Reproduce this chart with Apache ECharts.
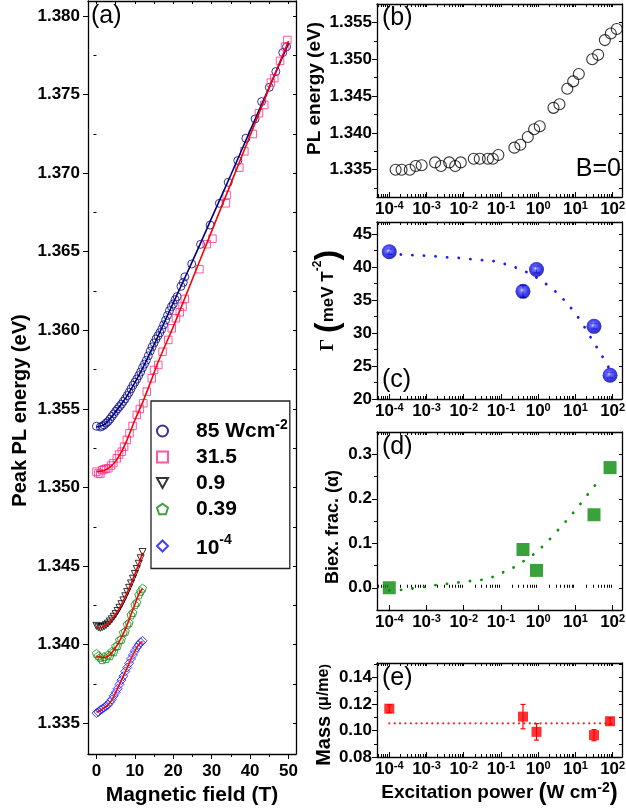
<!DOCTYPE html>
<html><head><meta charset="utf-8">
<script src="https://cdn.jsdelivr.net/npm/echarts@6/dist/echarts.min.js"></script>
<style>html,body{margin:0;padding:0;background:#fff}#c{width:626px;height:812px}</style>
</head><body><div id="c"></div>
<script>
// ---------------- DATA ----------------
// Panel (a): peak PL energy vs magnetic field
const B85 = [0,1.0,1.5,2.0,2.5,3.0,3.5,4.0,4.5,5.0,5.5,6.0,6.5,7.0,7.5,8.0,8.5,9.0,9.5,10,10.5,11,11.5,12,12.5,13,13.5,14,14.5,15,15.5,16,16.5,17,17.5,18,18.5,19,19.5,20,20.5,21,22.0,22.6,23.0,24.8,27.1,29.6,32.0,34.3,36.8,38.9,41.3,43.0,45.0,46.7,48.5,49.5];
const E85 = [1.35390,1.35385,1.35390,1.35398,1.35410,1.35420,1.35435,1.35452,1.35468,1.35485,1.35500,1.35515,1.35530,1.35548,1.35565,1.35585,1.35605,1.35628,1.35650,1.35670,1.35690,1.35712,1.35735,1.35762,1.35785,1.35810,1.35838,1.35868,1.35895,1.35920,1.35945,1.35965,1.35985,1.36008,1.36035,1.36065,1.36095,1.36125,1.36150,1.36168,1.36195,1.36215,1.36280,1.36305,1.36340,1.36422,1.36547,1.36670,1.36808,1.36942,1.37080,1.37222,1.37345,1.37455,1.37546,1.37646,1.37767,1.37805];
const B31 = [0,0.5,1.0,1.5,2.0,2.5,3.1,3.8,4.4,5.3,5.9,6.6,7.2,7.9,8.6,9.4,10.5,11.3,12.2,13.1,14.4,15.0,16.1,17.2,18.7,19.6,20.7,21.7,22.4,23.0,26.8,28.7,30.2,33.7,33.9,37.2,38.5,40.7,42.3,43.7,45.4,46.3,47.8,49.1,49.7];
const E31 = [1.35101,1.35090,1.35087,1.35110,1.35116,1.35120,1.35123,1.35140,1.35155,1.35186,1.35210,1.35228,1.35260,1.35303,1.35345,1.35392,1.35462,1.35500,1.35536,1.35610,1.35695,1.35748,1.35780,1.35864,1.35939,1.36013,1.36077,1.36115,1.36151,1.36200,1.36389,1.36548,1.36583,1.36808,1.36861,1.37035,1.37139,1.37249,1.37381,1.37434,1.37576,1.37604,1.37714,1.37805,1.37847];
const lowB = [0,0.5,1,1.5,2,2.5,3,3.5,4,4.5,5,5.5,6,6.5,7,7.5,8,8.5,9,9.5,10,10.5,11,11.5,12];
const E09 = [1.34120,1.34112,1.34108,1.34112,1.34118,1.34125,1.34135,1.34148,1.34162,1.34178,1.34195,1.34215,1.34235,1.34258,1.34282,1.34308,1.34335,1.34362,1.34390,1.34420,1.34450,1.34482,1.34515,1.34550,1.34590];
const E039 = [1.33945,1.33930,1.33920,1.33905,1.33925,1.33912,1.33935,1.33930,1.33958,1.33955,1.33990,1.33995,1.34030,1.34035,1.34078,1.34085,1.34130,1.34140,1.34190,1.34205,1.34255,1.34270,1.34318,1.34340,1.34360];
const E1e4 = [1.33565,1.33572,1.33585,1.33592,1.33600,1.33610,1.33618,1.33635,1.33652,1.33675,1.33697,1.33720,1.33748,1.33775,1.33800,1.33830,1.33855,1.33882,1.33910,1.33935,1.33960,1.33982,1.34000,1.34015,1.34025];
// fits in (a)
const fitB = [0,2,4,6,8,10,12,14,16,18,20,25,30,35,40,45,50];
const fitE85 = [1.35385,1.35400,1.35450,1.35515,1.35585,1.35668,1.35758,1.35858,1.35962,1.36068,1.36175,1.36440,1.36715,1.36990,1.37270,1.37548,1.37825];
const fitE31 = [1.35100,1.35108,1.35140,1.35205,1.35305,1.35430,1.35540,1.35665,1.35795,1.35910,1.36023,1.36327,1.36631,1.36935,1.37239,1.37543,1.37840];
const fitLowB = [0,1,2,3,4,5,6,7,8,9,10,11,12];
const fitE09 = [1.34112,1.34108,1.34116,1.34133,1.34160,1.34193,1.34233,1.34280,1.34333,1.34388,1.34448,1.34513,1.34585];
const fitE039 = [1.33928,1.33920,1.33918,1.33928,1.33950,1.33983,1.34023,1.34070,1.34128,1.34192,1.34256,1.34320,1.34358];
const fitE1e4 = [1.33570,1.33582,1.33598,1.33618,1.33648,1.33695,1.33748,1.33800,1.33855,1.33910,1.33960,1.34000,1.34022];

// Panel (b): PL energy at B=0 vs excitation power
const powerB = [1.48e-4,2.14e-4,3.55e-4,5.13e-4,7.41e-4,1.70e-3,2.45e-3,4.07e-3,5.89e-3,8.32e-3,0.0186,0.0269,0.0447,0.0603,0.0851,0.229,0.331,0.525,0.776,1.10,2.57,3.72,6.03,8.71,12.3,28.2,40.7,61.7,89.1,129];
const energyB = [1.3350,1.3350,1.3350,1.3355,1.3356,1.3360,1.3355,1.3360,1.3355,1.3360,1.3365,1.3365,1.3365,1.3365,1.3370,1.3380,1.3384,1.33945,1.3405,1.3409,1.3434,1.3439,1.3460,1.3470,1.3480,1.3500,1.3506,1.3526,1.3535,1.3541];

// Panels (c)-(e): fitted parameters vs excitation power
const powers = [1e-4, 0.39, 0.9, 31.5, 85];
const gamma = [42.3, 36.3, 39.6, 31.0, 23.6];
const gammaErr = [0.4, 0.9, 0.5, 0.4, 0.4];
const fitPowC = [1e-4,3.4e-4,7.2e-4,1.55e-3,3.3e-3,7.1e-3,0.0155,0.0355,0.078,0.17,0.35,0.72,1.55,3.3,6.6,11.7,18.6,30,47.5,72,85];
const fitGamma = [41.95,41.82,41.72,41.62,41.47,41.36,41.16,41.0,40.8,40.2,39.6,38.7,37.5,36.0,34.2,32.4,30.65,28.7,26.9,25.1,24.5];
const alpha = [0.0, 0.086, 0.039, 0.164, 0.270];
const fitPowD = [1e-4,2.34e-4,4.8e-4,1.02e-3,2.19e-3,4.7e-3,9.7e-3,0.0205,0.044,0.093,0.196,0.41,0.89,1.83,3.6,7.0,12.9,22.9,42.6];
const fitAlpha = [-0.006,-0.0045,-0.001,0.003,0.007,0.0097,0.0135,0.0164,0.020,0.0315,0.0435,0.060,0.080,0.105,0.132,0.159,0.186,0.213,0.241];
const mass = [0.1165, 0.1105, 0.0990, 0.0965, 0.1070];
const massErr = [0.003, 0.0092, 0.0062, 0.0042, 0.0025];
const meanMassPow = [1e-4, 100];
const meanMass = [0.1054, 0.1054];

// tick labels
const fieldTicks = [0,10,20,30,40,50];
const fieldMinor = [5,15,25,35,45];
const energyTicksA = [1.335,1.340,1.345,1.350,1.355,1.360,1.365,1.370,1.375,1.380];
const energyMinorA = [1.3375,1.3425,1.3475,1.3525,1.3575,1.3625,1.3675,1.3725,1.3775];
const energyTicksB = [1.335,1.340,1.345,1.350,1.355];
const energyMinorB = [1.3325,1.3375,1.3425,1.3475,1.3525];
const gammaTicks = [20,25,30,35,40,45];
const gammaMinor = [22.5,27.5,32.5,37.5,42.5];
const alphaTicks = [0.0,0.1,0.2,0.3];
const alphaMinor = [0.05,0.15,0.25];
const massTicks = [0.08,0.10,0.12,0.14];
const massMinor = [0.09,0.11,0.13,0.15];
const powerTicks = [1e-4,1e-3,1e-2,1e-1,1,10,100];

// ---------------- CHART ----------------
const FONT = '"Liberation Sans", Arial, Helvetica, sans-serif';
const powerMinor = [];
for (let n = -5; n <= 2; n++) for (let k = 2; k <= 9; k++) { const v = k * Math.pow(10, n); if (v > 4.7e-5 && v < 178) powerMinor.push(+v.toPrecision(3)); }

const LOGRICH = {
  b: {fontFamily: FONT, fontWeight: 'bold', fontSize: 17, lineHeight: 18, color: '#000'},
  s: {fontFamily: FONT, fontWeight: 'bold', fontSize: 11, lineHeight: 11, verticalAlign: 'top', color: '#000'}
};
const logFmt = v => '{b|10}{s|' + Math.round(Math.log10(v)) + '}';

const panels = [
  {rect:{left:88, top:1, width:208, height:753},
   x:{type:'value', min:-2.2, max:51.95, major:fieldTicks, minor:fieldMinor, fmt:v=>String(v), labels:true, tickIn:false, margin:9,
      name:'Magnetic field (T)', nameGap:30, nameStyle:{fontSize:21}},
   y:{min:1.33305, max:1.38095, major:energyTicksA, minor:energyMinorA, fmt:v=>v.toFixed(3), margin:8,
      name:'Peak PL energy (eV)', nameGap:58, nameStyle:{fontSize:20, padding:[0,66,0,0]}}},
  {rect:{left:377, top:4, width:245, height:193},
   x:{type:'log', min:4.68e-5, max:178, major:powerTicks, minor:powerMinor, fmt:logFmt, labels:true, tickIn:true, margin:3},
   y:{min:1.3313, max:1.3575, major:energyTicksB, minor:energyMinorB, fmt:v=>v.toFixed(3), margin:5,
      name:'PL energy (eV)', nameGap:53, nameStyle:{fontSize:19, padding:[0,0,0,24]}}},
  {rect:{left:377, top:222, width:245, height:177},
   x:{type:'log', min:4.68e-5, max:178, major:powerTicks, minor:powerMinor, fmt:logFmt, labels:true, tickIn:true, margin:3},
   y:{min:20, max:46.8, major:gammaTicks, minor:gammaMinor, fmt:v=>String(v), margin:5,
      name:'{g|Γ}{p|(}{t|meV T}{s|-2}{p|)}', nameGap:33, nameStyle:{padding:[0,0,0,20], rich:{
        g:{fontFamily:'"Liberation Serif", serif', fontSize:19, color:'#000', padding:[0,6,0,0]},
        p:{fontFamily:FONT, fontSize:32, color:'#000'},
        t:{fontFamily:FONT, fontWeight:'bold', fontSize:17, color:'#000'},
        s:{fontFamily:FONT, fontWeight:'bold', fontSize:12, verticalAlign:'top', lineHeight:12, color:'#000'}}}}},
  {rect:{left:377, top:432, width:245, height:178},
   x:{type:'log', min:4.68e-5, max:178, major:powerTicks, minor:powerMinor, fmt:logFmt, labels:true, tickIn:true, margin:3},
   y:{min:-0.05, max:0.35, major:alphaTicks, minor:alphaMinor, fmt:v=>v.toFixed(1), margin:5,
      name:'{t|Biex. frac. }{p|(α)}', nameGap:35, nameStyle:{padding:[0,12,0,0], rich:{
        t:{fontFamily:FONT, fontWeight:'bold', fontSize:18, color:'#000'},
        p:{fontFamily:FONT, fontSize:18, color:'#000'}}}}},
  {rect:{left:377, top:663, width:245, height:94},
   x:{type:'log', min:4.68e-5, max:178, major:powerTicks, minor:powerMinor, fmt:logFmt, labels:true, tickIn:true, margin:3,
      name:'{t|Excitation power }{p|(}{t|W cm}{s|-2}{p|)}', nameGap:24, nameStyle:{rich:{
        t:{fontFamily:FONT, fontWeight:'bold', fontSize:19, color:'#000'},
        p:{fontFamily:FONT, fontSize:24, color:'#000'},
        s:{fontFamily:FONT, fontWeight:'bold', fontSize:14, verticalAlign:'top', lineHeight:15, color:'#000'}}}},
   y:{min:0.08, max:0.151, major:massTicks, minor:massMinor, fmt:v=>v.toFixed(2), margin:5,
      name:'{t|Mass }{p|(}{u|μ/m}{e|e}{p|)}', nameGap:43, nameStyle:{padding:[0,10,0,0], rich:{
        t:{fontFamily:FONT, fontWeight:'bold', fontSize:20, color:'#000'},
        p:{fontFamily:FONT, fontSize:13, color:'#000'},
        u:{fontFamily:FONT, fontWeight:'bold', fontSize:16, color:'#000'},
        e:{fontFamily:FONT, fontWeight:'bold', fontSize:16, color:'#000'}}}}}
];

const grid = [], xAxis = [], yAxis = [];
const LINE = {show:true, onZero:false, lineStyle:{color:'#000', width:1.3}};
const baseName = {fontFamily:FONT, fontWeight:'bold', color:'#000'};
panels.forEach(p => grid.push(Object.assign({outerBoundsMode:'none'}, p.rect)));
panels.forEach(p => grid.push(Object.assign({outerBoundsMode:'none'}, p.rect)));

panels.forEach((p, i) => {
  const X = p.x, Y = p.y;
  const xCommon = {type:X.type, logBase:10, min:X.min, max:X.max, splitLine:{show:false}};
  const yCommon = {type:'value', min:Y.min, max:Y.max, splitLine:{show:false}, scale:true};
  xAxis[2*i] = Object.assign({}, xCommon, {gridIndex:i, position:'bottom', axisLine:LINE,
    axisTick:{show:true, inside:X.tickIn, length:5, customValues:X.major, lineStyle:{color:'#000', width:1}},
    axisLabel:{show:X.labels, customValues:X.major, formatter:X.fmt, margin:X.margin, color:'#000',
      fontFamily:FONT, fontWeight:'bold', fontSize:17, rich:LOGRICH, hideOverlap:false},
    name:X.name || '', nameLocation:'middle', nameGap:X.nameGap || 20,
    nameTextStyle:Object.assign({}, baseName, X.nameStyle || {})});
  xAxis[2*i+1] = Object.assign({}, xCommon, {gridIndex:i, position:'top', axisLine:LINE,
    axisTick:{show:true, inside:true, length:3, customValues:X.major.concat(X.minor), lineStyle:{color:'#000', width:1}},
    axisLabel:{show:false}});
  xAxis[10+i] = Object.assign({}, xCommon, {gridIndex:5+i, position:'bottom', axisLine:{show:false},
    axisTick:{show:true, inside:X.tickIn, length:3, customValues:X.minor, lineStyle:{color:'#000', width:1}},
    axisLabel:{show:false}});
  yAxis[2*i] = Object.assign({}, yCommon, {gridIndex:i, position:'left', axisLine:LINE,
    axisTick:{show:true, inside:false, length:5, customValues:Y.major, lineStyle:{color:'#000', width:1}},
    axisLabel:{show:true, customValues:Y.major, formatter:Y.fmt, margin:Y.margin, color:'#000',
      fontFamily:FONT, fontWeight:'bold', fontSize:17},
    name:Y.name, nameLocation:'middle', nameGap:Y.nameGap,
    nameTextStyle:Object.assign({}, baseName, Y.nameStyle || {})});
  yAxis[2*i+1] = Object.assign({}, yCommon, {gridIndex:i, position:'right', axisLine:LINE,
    axisTick:{show:true, inside:true, length:3, customValues:Y.major.concat(Y.minor), lineStyle:{color:'#000', width:1}},
    axisLabel:{show:false}});
  yAxis[10+i] = Object.assign({}, yCommon, {gridIndex:5+i, position:'left', axisLine:{show:false},
    axisTick:{show:true, inside:false, length:3, customValues:Y.minor, lineStyle:{color:'#000', width:1}},
    axisLabel:{show:false}});
});

const pts = (xs, ys) => xs.map((x, i) => [x, ys[i]]);
const hollow = c => ({color:'rgba(255,255,255,0)', borderColor:c, borderWidth:1});
const fitLine = (xs, ys, color, xi) => ({type:'line', xAxisIndex:xi, yAxisIndex:xi, data:pts(xs, ys), showSymbol:false,
  smooth:0.3, lineStyle:{color:color, width:1.6}, silent:true, z:5});
const dotted = (xs, ys, color, xi, w, gap) => ({type:'line', xAxisIndex:xi, yAxisIndex:xi, data:pts(xs, ys), showSymbol:false,
  smooth:0.3, lineStyle:{color:color, width:w, type:[0.1, gap], cap:'round'}, silent:true, z:2});
const errBars = (xs, ys, es, color, xi, cap) => ({type:'custom', xAxisIndex:xi, yAxisIndex:xi, z:3,
  data: xs.map((x, i) => [x, ys[i], es[i]]), encode:{x:0, y:1},
  renderItem: (params, api) => {
    const x = api.value(0), y = api.value(1), e = api.value(2);
    const t = api.coord([x, y + e]), b = api.coord([x, y - e]);
    const st = {stroke:color, lineWidth:1.2};
    return {type:'group', children:[
      {type:'line', shape:{x1:t[0], y1:t[1], x2:b[0], y2:b[1]}, style:st},
      {type:'line', shape:{x1:t[0]-cap, y1:t[1], x2:t[0]+cap, y2:t[1]}, style:st},
      {type:'line', shape:{x1:b[0]-cap, y1:b[1], x2:b[0]+cap, y2:b[1]}, style:st}]};
  }});

const TRI_DOWN = 'path://M0,0L10,0L5,9Z';
const PENTA = 'path://M5,0L10,3.6L8.1,9.5L1.9,9.5L0,3.6Z';

const series = [
  {name:'85', type:'scatter', xAxisIndex:0, yAxisIndex:0, data:pts(B85, E85), symbol:'circle', symbolSize:8, itemStyle:hollow('#000080'), z:4},
  {name:'31.5', type:'scatter', xAxisIndex:0, yAxisIndex:0, data:pts(B31, E31), symbol:'rect', symbolSize:7.5, itemStyle:hollow('#ff2e8c'), z:4},
  {name:'0.9', type:'scatter', xAxisIndex:0, yAxisIndex:0, data:pts(lowB, E09), symbol:TRI_DOWN, symbolSize:7, itemStyle:hollow('#000000'), z:4},
  {name:'0.39', type:'scatter', xAxisIndex:0, yAxisIndex:0, data:pts(lowB, E039), symbol:PENTA, symbolSize:8, itemStyle:hollow('#118811'), z:4},
  {name:'10-4', type:'scatter', xAxisIndex:0, yAxisIndex:0, data:pts(lowB, E1e4), symbol:'diamond', symbolSize:9, itemStyle:hollow('#1010ff'), z:4},
  fitLine(fitB, fitE85, '#000080', 0),
  fitLine(fitB, fitE31, '#ff0000', 0),
  fitLine(fitLowB, fitE09, '#ff0000', 0),
  fitLine(fitLowB, fitE039, '#ff0000', 0),
  fitLine(fitLowB, fitE1e4, '#ff0000', 0),
  // (b)
  {type:'scatter', xAxisIndex:2, yAxisIndex:2, data:pts(powerB, energyB), symbol:'circle', symbolSize:11,
   itemStyle:{color:'rgba(255,255,255,0)', borderColor:'#000', borderWidth:1.1}},
  // (c)
  dotted(fitPowC, fitGamma, '#1a1aff', 4, 2.8, 11.5),
  errBars(powers, gamma, gammaErr, '#000088', 4, 3),
  {type:'scatter', xAxisIndex:4, yAxisIndex:4, data:pts(powers, gamma), symbol:'circle', symbolSize:15, z:4,
   itemStyle:{color:{type:'radial', x:0.45, y:0.42, r:0.6, colorStops:[
     {offset:0, color:'#d8d8ff'}, {offset:0.25, color:'#4a4aff'}, {offset:0.65, color:'#0808e8'}, {offset:1, color:'#00007a'}]}}},
  // (d)
  dotted(fitPowD, fitAlpha, '#109010', 6, 2.8, 11.5),
  {type:'scatter', xAxisIndex:6, yAxisIndex:6, data:pts(powers, alpha), symbol:'rect', symbolSize:13, z:4,
   itemStyle:{color:'#0a8a0a'}},
  // (e)
  dotted(meanMassPow, meanMass, '#ff2020', 8, 2.2, 5.3),
  errBars(powers, mass, massErr, '#ff0000', 8, 2.5),
  {type:'scatter', xAxisIndex:8, yAxisIndex:8, data:pts(powers, mass), symbol:'rect', symbolSize:10, z:4,
   itemStyle:{color:'#ff0000'}}
];

const panelLabel = (txt, left, top) => ({type:'text', left:left, top:top, z:100,
  style:{text:txt, fontFamily:FONT, fontSize:25, fill:'#000'}});

const option = {
  animation:false,
  backgroundColor:'#fff',
  grid, xAxis, yAxis, series,
  legend:{
    left:151, top:401, orient:'vertical', data:['85','31.5','0.9','0.39','10-4'],
    itemWidth:11, itemHeight:11, itemGap:5, padding:[17,2,1,5],
    borderColor:'#222', borderWidth:1.3, backgroundColor:'#fff', selectedMode:false,
    formatter: n => n === '85' ? '{t|85 Wcm}{s|-2}' : (n === '10-4' ? '{q|10}{s|-4}' : '{t|' + n + '}'),
    textStyle:{fontFamily:FONT, fontWeight:'bold', fontSize:21, color:'#000', rich:{
      t:{fontFamily:FONT, fontWeight:'bold', fontSize:21, lineHeight:26, padding:[0,0,0,23], color:'#000'},
      q:{fontFamily:FONT, fontWeight:'bold', fontSize:21, lineHeight:26, padding:[13,0,9,23], color:'#000'},
      s:{fontFamily:FONT, fontWeight:'bold', fontSize:14, lineHeight:14, verticalAlign:'top', color:'#000'}}}
  },
  graphic:[
    panelLabel('(a)', 91, 4),
    panelLabel('(b)', 382, 6),
    panelLabel('(c)', 382, 368),
    panelLabel('(d)', 382, 435),
    panelLabel('(e)', 382, 666),
    {type:'text', right:5, top:157, z:100, style:{text:'B=0', fontFamily:FONT, fontSize:25, fill:'#000'}}
  ]
};
const chart = echarts.init(document.getElementById('c'));
chart.setOption(option);
</script>
</body></html>
